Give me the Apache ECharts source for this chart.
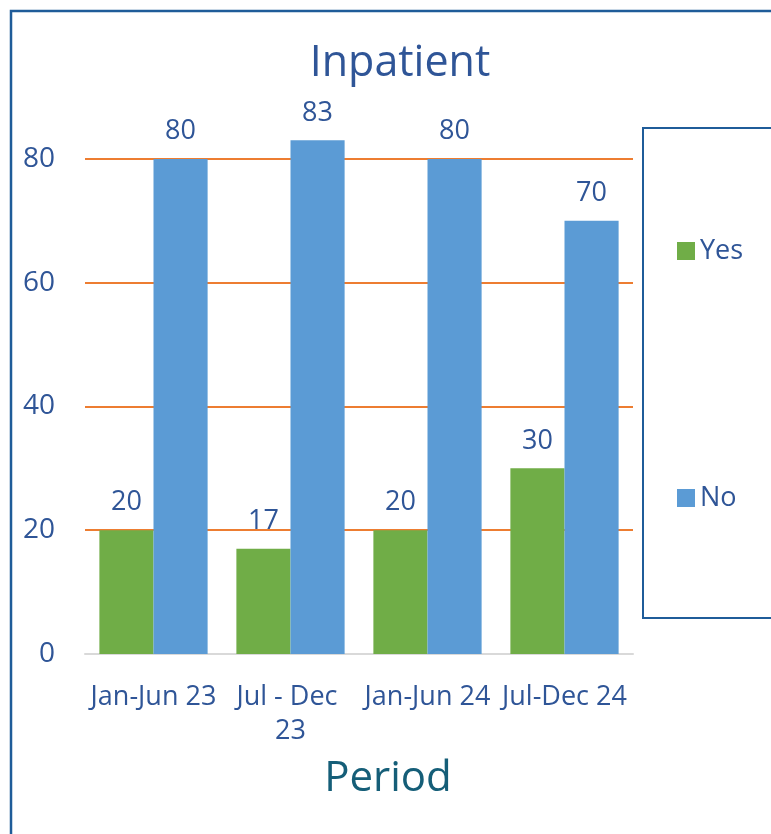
<!DOCTYPE html>
<html><head><meta charset="utf-8">
<script src="https://cdn.jsdelivr.net/npm/echarts@6/dist/echarts.min.js"></script>
<style>html,body{margin:0;padding:0;background:#fff}#c{width:771px;height:834px}</style>
</head><body><div id="c"></div>
<script>
const categories = ['Jan-Jun 23', 'Jul - Dec 23', 'Jan-Jun 24', 'Jul-Dec 24'];
const yesValues = [20, 17, 20, 30];
const noValues = [80, 83, 80, 70];
const seriesNames = ['Yes', 'No'];
const titleText = 'Inpatient';
const xAxisTitle = 'Period';

const FONT = '"Open Sans", sans-serif';
const TXT = '#2F5597';
const chart = echarts.init(document.getElementById('c'));
const labelCfg = {show: true, position: 'top', distance: 14, color: TXT, fontSize: 27, fontFamily: FONT};
chart.setOption({
  animation: false,
  backgroundColor: '#fff',
  graphic: [{type: 'rect', shape: {x: 11, y: 11, width: 900, height: 900}, style: {fill: 'none', stroke: '#1F5C99', lineWidth: 2.5}, z: -1}],
  title: {text: titleText, left: 395, top: 37, textAlign: 'center',
    textStyle: {color: TXT, fontSize: 43, fontWeight: 'normal', fontFamily: FONT}},
  legend: {orient: 'vertical', left: 643, top: 128, data: seriesNames,
    padding: [106, 120, 103, 34], itemGap: 213, itemWidth: 18, itemHeight: 18,
    borderColor: '#1F5C99', borderWidth: 2,
    icon: 'rect', textStyle: {color: TXT, fontSize: 27, fontFamily: FONT, lineHeight: 34}},
  grid: {left: 85, right: 138, top: 97, bottom: 180, containLabel: false},
  xAxis: {type: 'category', data: categories,
    axisLine: {lineStyle: {color: '#D9D9D9', width: 2}}, axisTick: {show: false},
    axisLabel: {color: TXT, fontSize: 27, fontFamily: FONT, margin: 26, lineHeight: 34, interval: 0,
      width: 137, overflow: 'break'},
    name: xAxisTitle, nameLocation: 'middle', nameGap: 104,
    nameTextStyle: {color: '#155E78', fontSize: 42, fontFamily: FONT, padding: [0, 0, 0, 58]}},
  yAxis: {type: 'value', min: 0, max: 90, interval: 20,
    axisLine: {show: false}, axisTick: {show: false},
    axisLabel: {color: TXT, fontSize: 28, fontFamily: FONT, margin: 30, showMaxLabel: false},
    splitLine: {show: true, showMinLine: false, showMaxLine: false, lineStyle: {color: '#ED7D31', width: 2}}},
  series: [
    {name: seriesNames[0], type: 'bar', data: yesValues, barGap: '0%', barCategoryGap: '21%',
      itemStyle: {color: '#70AD47'}, label: labelCfg},
    {name: seriesNames[1], type: 'bar', data: noValues, barGap: '0%', barCategoryGap: '21%',
      itemStyle: {color: '#5B9BD5'}, label: labelCfg}
  ]
});
</script></body></html>
